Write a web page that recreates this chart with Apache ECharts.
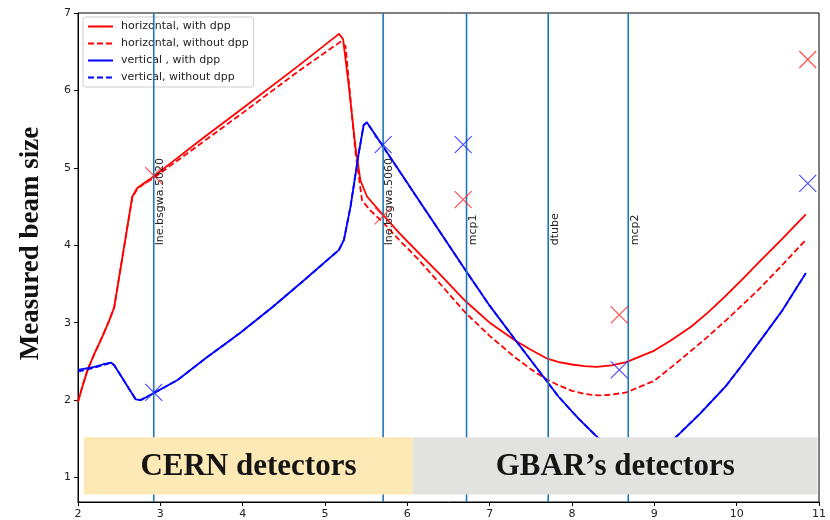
<!DOCTYPE html>
<html>
<head>
<meta charset="utf-8">
<script src="https://cdn.jsdelivr.net/npm/echarts@6/dist/echarts.min.js"></script>
<style>
html,body{margin:0;padding:0;background:#fff;}
#chart{width:830px;height:520px;}
</style>
</head>
<body>
<div id="chart"></div>
<script>
// ---- data ----
const xTicks = [2, 3, 4, 5, 6, 7, 8, 9, 10, 11];
const yTicks = [1, 2, 3, 4, 5, 6, 7];

const seriesNames = ['horizontal, with dpp', 'horizontal, without dpp', 'vertical , with dpp', 'vertical, without dpp'];

const hWithX = [2.00, 2.06, 2.12, 2.20, 2.30, 2.38, 2.44, 2.52, 2.60, 2.66, 2.72, 2.80, 2.92, 3.50, 4.00, 4.68, 5.17, 5.22, 5.29, 5.37, 5.43, 5.51, 5.69, 5.90, 6.14, 6.40, 6.705, 7.00, 7.31, 7.50, 7.69, 7.84, 8.00, 8.15, 8.30, 8.48, 8.66, 9.00, 9.20, 9.45, 9.65, 9.85, 10.05, 10.26, 10.55, 10.84];
const hWithY = [1.98, 2.20, 2.40, 2.60, 2.83, 3.03, 3.20, 3.72, 4.24, 4.63, 4.74, 4.80, 4.89, 5.37, 5.77, 6.32, 6.73, 6.66, 6.05, 5.27, 4.84, 4.63, 4.41, 4.16, 3.90, 3.62, 3.28, 3.00, 2.77, 2.65, 2.54, 2.49, 2.46, 2.44, 2.43, 2.45, 2.49, 2.64, 2.77, 2.95, 3.13, 3.33, 3.54, 3.77, 4.08, 4.40];

const hWithoutX = [2.00, 2.06, 2.12, 2.20, 2.30, 2.38, 2.44, 2.52, 2.60, 2.66, 2.72, 2.80, 2.92, 3.50, 4.00, 4.68, 5.19, 5.25, 5.30, 5.37, 5.45, 5.55, 5.69, 5.90, 6.14, 6.40, 6.705, 7.00, 7.31, 7.50, 7.69, 7.84, 8.00, 8.15, 8.32, 8.48, 8.66, 9.00, 9.20, 9.45, 9.65, 9.85, 10.05, 10.26, 10.55, 10.84];
const hWithoutY = [1.98, 2.20, 2.40, 2.60, 2.83, 3.03, 3.20, 3.72, 4.24, 4.62, 4.73, 4.79, 4.87, 5.32, 5.71, 6.25, 6.63, 6.57, 6.00, 5.20, 4.58, 4.45, 4.31, 4.07, 3.81, 3.50, 3.13, 2.83, 2.55, 2.40, 2.27, 2.19, 2.12, 2.08, 2.06, 2.07, 2.10, 2.25, 2.42, 2.64, 2.82, 3.01, 3.21, 3.42, 3.74, 4.07];

const vWithX = [2.00, 2.10, 2.20, 2.30, 2.40, 2.44, 2.50, 2.60, 2.70, 2.76, 2.85, 2.92, 3.21, 3.55, 3.96, 4.36, 4.77, 5.17, 5.23, 5.31, 5.41, 5.47, 5.51, 5.69, 6.14, 6.705, 7.00, 7.31, 7.69, 7.84, 8.08, 8.32, 8.50, 8.78, 9.00, 9.25, 9.55, 9.86, 10.05, 10.26, 10.55, 10.84];
const vWithY = [2.39, 2.41, 2.43, 2.46, 2.485, 2.45, 2.35, 2.18, 2.01, 2.00, 2.05, 2.09, 2.26, 2.54, 2.86, 3.20, 3.57, 3.94, 4.07, 4.50, 5.19, 5.555, 5.585, 5.30, 4.58, 3.68, 3.22, 2.78, 2.25, 2.04, 1.76, 1.51, 1.36, 1.25, 1.30, 1.51, 1.82, 2.17, 2.43, 2.73, 3.15, 3.64];

const vWithoutX = vWithX;
const vWithoutY = [2.37, 2.39, 2.42, 2.45, 2.48, 2.45, 2.35, 2.18, 2.01, 2.00, 2.05, 2.09, 2.26, 2.54, 2.86, 3.20, 3.57, 3.94, 4.07, 4.50, 5.19, 5.555, 5.585, 5.30, 4.58, 3.68, 3.22, 2.78, 2.25, 2.04, 1.76, 1.51, 1.36, 1.25, 1.30, 1.51, 1.82, 2.17, 2.43, 2.73, 3.15, 3.64];

const measX = [2.92, 5.706, 6.678, 8.574, 10.863];
const measH = [4.90, 4.38, 4.59, 3.10, 6.40];
const measV = [2.10, 5.30, 5.30, 2.39, 4.80];

const detectorX = [2.92, 5.706, 6.719, 7.711, 8.683];
const detectorNames = ['lne.bsgwa.5020', 'lne.bsgwa.5060', 'mcp1', 'dtube', 'mcp2'];
const detectorLabelY = 4;

const boxNames = ['CERN detectors', 'GBAR\u2019s detectors'];
const boxX0 = [2.07, 6.07];
const boxX1 = [6.07, 10.98];
const boxY0 = 0.78;
const boxY1 = 1.52;
const boxColors = ['#fde9b6', '#e2e3e1'];

const yMin = 0.684, yMax = 7;

// ---- helpers ----
const pairs = (xs, ys) => xs.map((x, i) => [x, ys[i]]);
const tickFont = {fontSize: 11, fontFamily: 'DejaVu Sans', color: '#222'};

const chart = echarts.init(document.getElementById('chart'), null, {renderer: 'canvas'});

const lineSeries = (name, xs, ys, color, dashed) => ({
  type: 'line', name: name, data: pairs(xs, ys),
  symbol: 'none', showSymbol: false, smooth: false,
  lineStyle: {color: color, width: 1.8, type: dashed ? [6, 3] : 'solid', join: 'round'},
  itemStyle: {color: color}, z: 3, animation: false
});

const xSym = 'path://M0,0L10,10M10,0L0,10';

chart.setOption({
  animation: false,
  backgroundColor: '#fff',
  grid: {left: 78, right: 11, top: 13, bottom: 18, show: true, borderColor: '#000', borderWidth: 1, backgroundColor: 'transparent', outerBoundsMode: 'none'},
  legend: {
    data: seriesNames,
    orient: 'vertical', left: 83, top: 17,
    itemWidth: 25, itemHeight: 10, itemGap: 4,
    padding: [3, 5, 3, 4],
    backgroundColor: 'rgba(255,255,255,0.85)',
    borderColor: '#cccccc', borderWidth: 1, borderRadius: 3,
    itemStyle: {color: 'rgba(0,0,0,0)', borderColor: 'rgba(0,0,0,0)', borderWidth: 0},
    textStyle: {fontSize: 11, fontFamily: 'DejaVu Sans', color: '#222', lineHeight: 13, padding: [0, 0, 0, 3]},
    selectedMode: false
  },
  xAxis: {
    type: 'value', min: 2, max: 11, interval: 1,
    axisLine: {show: true, lineStyle: {color: '#000', width: 1}},
    axisTick: {show: true, length: 4, lineStyle: {color: '#000'}},
    axisLabel: Object.assign({margin: 7}, tickFont),
    splitLine: {show: false}
  },
  yAxis: {
    type: 'value', min: yMin, max: yMax,
    name: 'Measured beam size', nameLocation: 'middle', nameRotate: 90, nameGap: 33,
    nameTextStyle: {fontFamily: 'Liberation Serif', fontWeight: 'bold', fontSize: 27, color: '#111', padding: [0, 0, 0, 28]},
    axisLine: {show: true, lineStyle: {color: '#000', width: 1}},
    axisTick: {show: true, length: 4, lineStyle: {color: '#000'}, customValues: yTicks},
    axisLabel: Object.assign({margin: 7, customValues: yTicks}, tickFont),
    splitLine: {show: false}
  },
  series: [
    lineSeries(seriesNames[0], hWithX, hWithY, '#ff0000', false),
    lineSeries(seriesNames[1], hWithoutX, hWithoutY, '#ff0000', true),
    lineSeries(seriesNames[2], vWithX, vWithY, '#0000ff', false),
    lineSeries(seriesNames[3], vWithoutX, vWithoutY, '#0000ff', true),
    {
      type: 'custom', name: 'detectors', z: 4, silent: true,
      data: detectorX.map((x, i) => [x, i]),
      renderItem: function (params, api) {
        const x = api.value(0);
        const i = api.value(1);
        const p0 = api.coord([x, yMin]);
        const p1 = api.coord([x, yMax]);
        const pt = api.coord([x, detectorLabelY]);
        return {
          type: 'group',
          children: [
            {type: 'line', shape: {x1: p0[0], y1: p0[1], x2: p1[0], y2: p1[1]}, style: {stroke: '#1f77b4', lineWidth: 1.6}},
            {type: 'text', x: pt[0] + 1, y: pt[1], rotation: Math.PI / 2,
             style: {text: detectorNames[i], fill: '#222', font: '11px "DejaVu Sans"', align: 'left', verticalAlign: 'top'}}
          ]
        };
      }
    },
    {
      type: 'scatter', name: 'meas H', data: pairs(measX, measH),
      symbol: xSym, symbolSize: 17, z: 5,
      itemStyle: {color: 'none', borderColor: '#ff2020', borderWidth: 1.2}
    },
    {
      type: 'scatter', name: 'meas V', data: pairs(measX, measV),
      symbol: xSym, symbolSize: 17, z: 5,
      itemStyle: {color: 'none', borderColor: '#2020ff', borderWidth: 1.2}
    },
    {
      type: 'custom', name: 'boxes', z: 10, silent: true,
      data: boxNames.map((n, i) => [boxX0[i], boxX1[i], i]),
      renderItem: function (params, api) {
        const i = api.value(2);
        const a = api.coord([api.value(0), boxY1]);
        const b = api.coord([api.value(1), boxY0]);
        return {
          type: 'group',
          children: [
            {type: 'rect', shape: {x: a[0], y: a[1], width: b[0] - a[0], height: b[1] - a[1]}, style: {fill: boxColors[i]}},
            {type: 'text', x: (a[0] + b[0]) / 2, y: (a[1] + b[1]) / 2 + 1,
             style: {text: boxNames[i], fill: '#151515', font: 'bold 31px "Liberation Serif"', align: 'center', verticalAlign: 'middle'}}
          ]
        };
      }
    }
  ]
});
</script>
</body>
</html>
